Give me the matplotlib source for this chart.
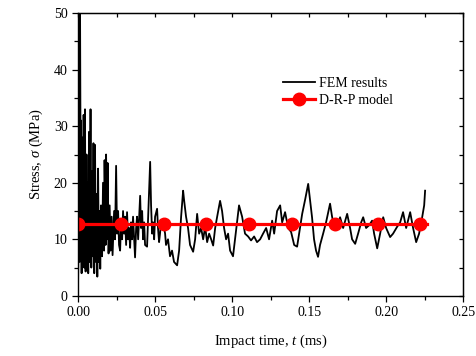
import matplotlib
matplotlib.use("Agg")
import matplotlib.pyplot as plt
from matplotlib.ticker import MultipleLocator

plt.rcParams["font.family"] = ["Liberation Serif", "DejaVu Serif"]
plt.rcParams["mathtext.fontset"] = "custom"
plt.rcParams["mathtext.rm"] = "Liberation Serif"
plt.rcParams["mathtext.it"] = "Liberation Serif:italic"

# =====================================
# Data
# =====================================
fem_t = [
    0.0000, 0.0003, 0.0006, 0.0010, 0.0013, 0.0018, 0.0019, 0.0023, 0.0029, 0.0032,
    0.0036, 0.0040, 0.0045, 0.0049, 0.0055, 0.0058, 0.0062, 0.0066, 0.0071, 0.0075,
    0.0081, 0.0086, 0.0091, 0.0095, 0.0100, 0.0105, 0.0110, 0.0116, 0.0120, 0.0125,
    0.0130, 0.0135, 0.0140, 0.0144, 0.0149, 0.0156, 0.0162, 0.0169, 0.0172, 0.0179,
    0.0182, 0.0188, 0.0192, 0.0198, 0.0205, 0.0211, 0.0218, 0.0224, 0.0234, 0.0240,
    0.0247, 0.0253, 0.0260, 0.0266, 0.0273, 0.0279, 0.0286, 0.0292, 0.0299, 0.0305,
    0.0312, 0.0318, 0.0325, 0.0331, 0.0338, 0.0344, 0.0351, 0.0357, 0.0370, 0.0377,
    0.0383, 0.0390, 0.0403, 0.0409, 0.0416, 0.0422, 0.0429, 0.0435, 0.0448, 0.0455,
    0.0461, 0.0468, 0.0474, 0.0481, 0.0487, 0.0494, 0.0500, 0.0513, 0.0519, 0.0526,
    0.0532, 0.0539, 0.0552, 0.0565, 0.0571, 0.0584, 0.0597, 0.0610, 0.0623, 0.0643,
    0.0656, 0.0669, 0.0682, 0.0688, 0.0701, 0.0714, 0.0727, 0.0747, 0.0760, 0.0773,
    0.0786, 0.0799, 0.0812, 0.0825, 0.0838, 0.0851, 0.0864, 0.0877, 0.0890, 0.0903,
    0.0922, 0.0935, 0.0948, 0.0961, 0.0974, 0.0987, 0.1006, 0.1019, 0.1032, 0.1045,
    0.1065, 0.1084, 0.1104, 0.1123, 0.1143, 0.1162, 0.1182, 0.1201, 0.1221, 0.1240,
    0.1260, 0.1273, 0.1292, 0.1312, 0.1325, 0.1344, 0.1364, 0.1383, 0.1403, 0.1422,
    0.1435, 0.1455, 0.1474, 0.1494, 0.1506, 0.1519, 0.1532, 0.1545, 0.1558, 0.1571,
    0.1591, 0.1610, 0.1636, 0.1649, 0.1669, 0.1682, 0.1701, 0.1721, 0.1747, 0.1766,
    0.1779, 0.1799, 0.1818, 0.1838, 0.1851, 0.1870, 0.1890, 0.1909, 0.1922, 0.1942,
    0.1961, 0.1981, 0.2000, 0.2026, 0.2045, 0.2071, 0.2091, 0.2110, 0.2130, 0.2156,
    0.2175, 0.2195, 0.2214, 0.2234, 0.2247, 0.2253,
]
fem_stress = [
    2.0, 12.0, 40.0, 6.0, 50.0, 10.0, 31.0, 4.0, 28.0, 6.0,
    32.0, 5.0, 33.0, 4.3, 25.0, 8.0, 20.0, 4.0, 29.0, 6.0,
    33.0, 5.0, 22.0, 7.0, 27.0, 4.0, 26.7, 6.0, 18.0, 3.4,
    22.5, 6.0, 15.0, 4.8, 16.0, 7.0, 20.0, 8.0, 24.0, 9.0,
    25.0, 10.0, 23.5, 7.5, 16.0, 8.0, 14.0, 7.2, 15.0, 10.0,
    23.0, 11.0, 15.0, 9.0, 8.0, 13.0, 10.0, 15.0, 11.0, 14.0,
    9.0, 14.8, 10.0, 12.0, 8.5, 13.0, 10.0, 14.0, 6.8, 12.0,
    14.0, 10.0, 17.7, 12.0, 15.0, 10.0, 13.0, 9.0, 8.7, 14.0,
    18.0, 23.7, 16.0, 11.0, 13.0, 10.0, 14.0, 15.4, 12.0, 9.5,
    11.0, 13.0, 13.0, 11.0, 9.0, 10.0, 7.0, 8.0, 6.0, 5.4,
    8.0, 14.0, 18.6, 17.0, 14.0, 12.0, 9.0, 7.8, 10.0, 14.5,
    11.0, 12.0, 10.0, 12.2, 9.5, 11.0, 10.0, 8.9, 12.0, 14.0,
    16.8, 15.0, 12.0, 10.0, 11.0, 8.0, 7.0, 10.0, 13.0, 16.0,
    14.0, 11.0, 10.5, 9.8, 10.5, 9.5, 10.0, 11.0, 12.0, 10.0,
    13.3, 11.0, 15.0, 16.0, 13.0, 14.8, 12.0, 11.3, 9.0, 8.7,
    11.0, 14.5, 17.0, 19.8, 17.0, 13.9, 10.0, 8.0, 6.9, 9.0,
    11.0, 13.0, 16.3, 14.0, 11.6, 12.0, 13.9, 12.0, 14.5, 12.0,
    10.0, 9.2, 11.0, 13.0, 13.9, 12.0, 12.5, 13.3, 11.0, 8.4,
    11.0, 13.9, 12.0, 10.4, 11.0, 12.2, 13.0, 14.8, 12.0, 14.8,
    12.0, 9.5, 11.0, 13.9, 16.0, 18.6,
]

model_t = [0.0, 0.0278, 0.0556, 0.0833, 0.1111, 0.1389, 0.1667, 0.1944, 0.2222, 0.2265]
model_stress = [12.7, 12.7, 12.7, 12.7, 12.7, 12.7, 12.7, 12.7, 12.7, 12.7]

# =====================================
# Plot
# =====================================
fig = plt.figure(figsize=(4.76, 3.56), dpi=100)
ax = fig.add_axes([0.164, 0.169, 0.809, 0.794])

ax.plot(fem_t, fem_stress, color="black", lw=1.3, label="FEM results")
ax.plot(model_t, model_stress, color="red", lw=2.3, marker="o", ms=9,
        markevery=list(range(9)), mfc="red", mec="red", label="D-R-P model")

ax.set_xlim(0, 0.25)
ax.set_ylim(0, 50)
ax.xaxis.set_major_locator(MultipleLocator(0.05))
ax.xaxis.set_minor_locator(MultipleLocator(0.025))
ax.yaxis.set_major_locator(MultipleLocator(10))
ax.yaxis.set_minor_locator(MultipleLocator(5))
ax.xaxis.set_major_formatter(plt.FormatStrFormatter("%.2f"))

ax.tick_params(which="both", direction="out", labelsize=10, width=0.9)
ax.tick_params(which="major", length=4)
ax.tick_params(which="minor", length=3)

top = ax.secondary_xaxis("top")
top.xaxis.set_major_locator(MultipleLocator(0.025))
top.tick_params(direction="in", length=3, width=0.9, labeltop=False)
right = ax.secondary_yaxis("right")
right.yaxis.set_major_locator(MultipleLocator(5))
right.tick_params(direction="in", length=3, width=0.9, labelright=False)

for sp in ax.spines.values():
    sp.set_linewidth(1.0)

ax.set_xlabel(r"Impact time, $\it{t}$ (ms)", fontsize=10.5, labelpad=10)
ax.set_ylabel(r"Stress, $\sigma$ (MPa)", fontsize=10.5, labelpad=6)

ax.legend(loc="upper left", bbox_to_anchor=(0.5, 0.82), frameon=False,
          fontsize=10, handlelength=2.3, handletextpad=0.3, labelspacing=0.3)

fig.savefig("out.png", dpi=100)
